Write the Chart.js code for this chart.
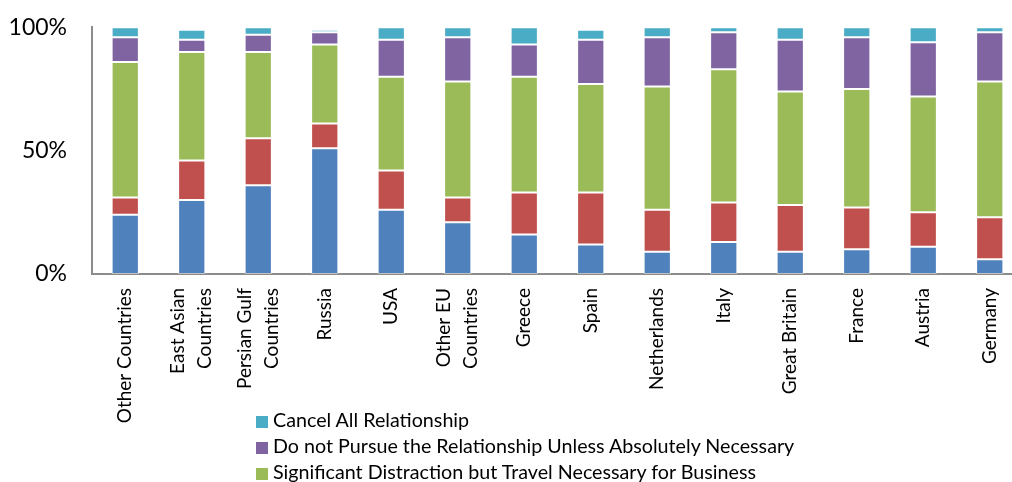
<!DOCTYPE html>
<html>
<head>
<meta charset="utf-8">
<script src="https://cdn.jsdelivr.net/npm/chart.js@4"></script>
<style>
  body { margin: 0; background: #fff; overflow: hidden; }
  #wrap { position: relative; width: 1012px; height: 482px; overflow: hidden; }
  #chart { position: absolute; left: 0; top: 0; }
  #legend { position: absolute; left: 256px; top: 407px; font-family: Lato, sans-serif; font-size: 19.7px; color: #000; }
  #legend div { height: 26px; line-height: 26px; white-space: nowrap; }
  #legend span { display: inline-block; width: 12px; height: 12px; margin-right: 5px; vertical-align: -1px; }
</style>
</head>
<body>
<div id="wrap">
  <canvas id="chart" width="1030" height="482"></canvas>
  <div id="legend"></div>
</div>
<script>
// categories along the x axis
var categories = ["Other Countries", ["East Asian", "Countries"], ["Persian Gulf", "Countries"], "Russia", "USA",
    ["Other EU", "Countries"], "Greece", "Spain", "Netherlands", "Italy", "Great Britain", "France", "Austria", "Germany"];

// series, bottom to top (% of answers)
var noEffect    = [24, 30, 36, 51, 26, 21, 16, 12,  9, 13,  9, 10, 11,  6];
var minorDistr  = [ 7, 16, 19, 10, 16, 10, 17, 21, 17, 16, 19, 17, 14, 17];
var travelNeed  = [55, 44, 35, 32, 38, 47, 47, 44, 50, 54, 46, 48, 47, 55];
var doNotPursue = [10,  5,  7,  5, 15, 18, 13, 18, 20, 15, 21, 21, 22, 20];
var cancelAll   = [ 4,  4,  3,  1,  5,  4,  7,  4,  4,  2,  5,  4,  6,  2];

var yTicks = [0, 50, 100];

var seriesNames = ["No Significant Effect on Business Relationship",
    "Minor Distraction but Business Continues",
    "Significant Distraction but Travel Necessary for Business",
    "Do not Pursue the Relationship Unless Absolutely Necessary",
    "Cancel All Relationship"];
var colors = ["#4F81BD", "#C0504D", "#9BBB59", "#8064A2", "#4BACC6"];
var values = [noEffect, minorDistr, travelNeed, doNotPursue, cancelAll];

var datasets = [];
values.forEach(function(v, i) {
    datasets.push({
        label: seriesNames[i],
        data: v,
        backgroundColor: colors[i],
        borderColor: "rgba(255,255,255,0.45)",
        borderWidth: 1,
        borderSkipped: false,
        barPercentage: 0.41,
        categoryPercentage: 1
    });
});

// x labels drawn rotated, multi line ones centred on the tick
var xLabelsPlugin = {
    id: 'xLabels',
    afterDraw: function(chart) {
        var ctx = chart.ctx;
        var xs = chart.scales.x;
        ctx.save();
        ctx.fillStyle = "#000";
        ctx.font = "19px Lato";
        ctx.textAlign = "right";
        ctx.textBaseline = "middle";
        categories.forEach(function(c, i) {
            var lines = Array.isArray(c) ? c : [c];
            var px = xs.getPixelForTick(i);
            lines.forEach(function(line, j) {
                ctx.save();
                ctx.translate(px + (j - (lines.length - 1) / 2) * 27, xs.top + 14);
                ctx.rotate(-Math.PI / 2);
                ctx.fillText(line, 0, 0);
                ctx.restore();
            });
        });
        ctx.restore();
    }
};

var chart = new Chart(document.getElementById("chart"), {
    type: 'bar',
    data: { labels: categories, datasets: datasets },
    plugins: [xLabelsPlugin],
    options: {
        responsive: false,
        animation: false,
        layout: { padding: { top: 10, right: 7, left: 0, bottom: 0 } },
        plugins: { legend: { display: false }, tooltip: { enabled: false } },
        scales: {
            x: {
                stacked: true,
                grid: { display: false },
                border: { display: true, color: "#8c8c8c", width: 2 },
                ticks: { display: false },
                afterFit: function(scale) { scale.height = 208; }
            },
            y: {
                stacked: true,
                min: 0, max: 100,
                grid: { display: false },
                border: { display: true, color: "#8c8c8c", width: 2 },
                afterBuildTicks: function(scale) {
                    scale.ticks = yTicks.map(function(t) { return { value: t }; });
                },
                ticks: {
                    color: "#000",
                    font: { family: "Lato", size: 23, lineHeight: 0.9 },
                    padding: 17,
                    callback: function(v) { return v + '%'; }
                },
                afterFit: function(scale) { scale.width = 92; }
            }
        }
    }
});

// legend, top series first, the rest falls below the window
var legendBox = document.getElementById("legend");
for (var i = datasets.length - 1; i >= 0; i--) {
    var row = document.createElement("div");
    row.innerHTML = '<span style="background:' + datasets[i].backgroundColor + '"></span>' + datasets[i].label;
    legendBox.appendChild(row);
}
</script>
</body>
</html>
